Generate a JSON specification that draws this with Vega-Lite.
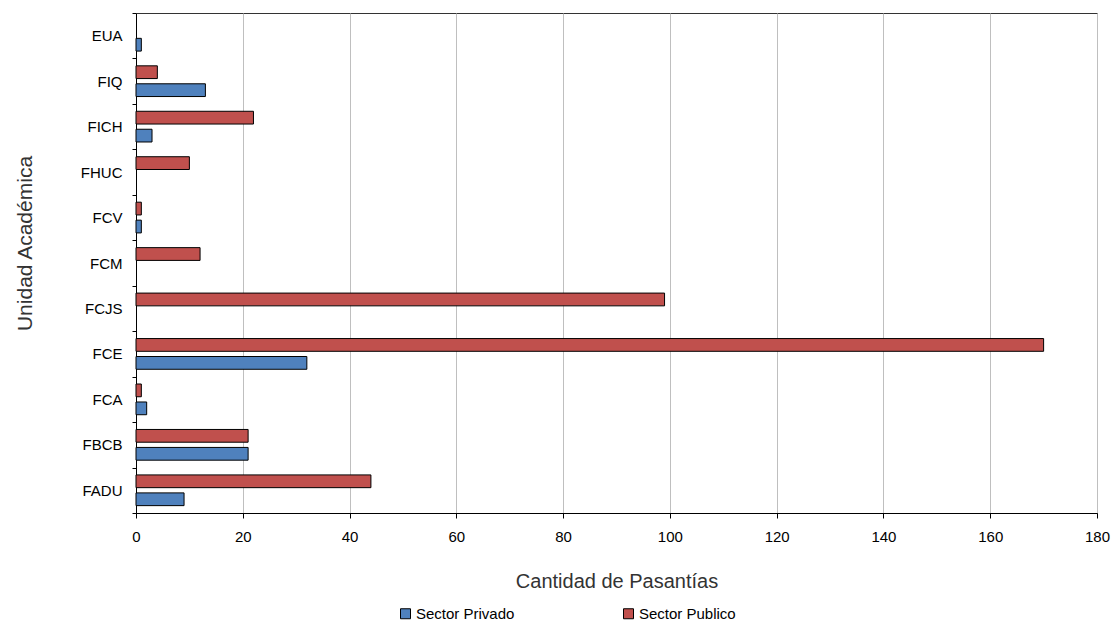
{
  "$schema": "https://vega.github.io/schema/vega-lite/v6.json",
  "width": 961,
  "height": 500,
  "autosize": {"type": "none"},
  "padding": {"left": 136, "top": 13, "right": 14, "bottom": 109},
  "background": "white",
  "config": {
    "font": "Liberation Sans",
    "view": {"stroke": "#333333", "strokeWidth": 1},
    "axis": {"labelFont": "Liberation Sans", "titleFont": "Liberation Sans", "labelColor": "#000", "titleColor": "#333", "domainColor": "#000", "tickColor": "#000", "titleFontWeight": "normal"}
  },
  "data": {
    "values": [
      {"unidad": "EUA", "sector": "Sector Privado", "valor": 1},
      {"unidad": "EUA", "sector": "Sector Publico", "valor": 0},
      {"unidad": "FIQ", "sector": "Sector Privado", "valor": 13},
      {"unidad": "FIQ", "sector": "Sector Publico", "valor": 4},
      {"unidad": "FICH", "sector": "Sector Privado", "valor": 3},
      {"unidad": "FICH", "sector": "Sector Publico", "valor": 22},
      {"unidad": "FHUC", "sector": "Sector Privado", "valor": 0},
      {"unidad": "FHUC", "sector": "Sector Publico", "valor": 10},
      {"unidad": "FCV", "sector": "Sector Privado", "valor": 1},
      {"unidad": "FCV", "sector": "Sector Publico", "valor": 1},
      {"unidad": "FCM", "sector": "Sector Privado", "valor": 0},
      {"unidad": "FCM", "sector": "Sector Publico", "valor": 12},
      {"unidad": "FCJS", "sector": "Sector Privado", "valor": 0},
      {"unidad": "FCJS", "sector": "Sector Publico", "valor": 99},
      {"unidad": "FCE", "sector": "Sector Privado", "valor": 32},
      {"unidad": "FCE", "sector": "Sector Publico", "valor": 170},
      {"unidad": "FCA", "sector": "Sector Privado", "valor": 2},
      {"unidad": "FCA", "sector": "Sector Publico", "valor": 1},
      {"unidad": "FBCB", "sector": "Sector Privado", "valor": 21},
      {"unidad": "FBCB", "sector": "Sector Publico", "valor": 21},
      {"unidad": "FADU", "sector": "Sector Privado", "valor": 9},
      {"unidad": "FADU", "sector": "Sector Publico", "valor": 44}
    ]
  },
  "mark": {"type": "bar", "stroke": "#000", "strokeWidth": 1},
  "encoding": {
    "y": {
      "field": "unidad",
      "type": "nominal",
      "sort": ["EUA", "FIQ", "FICH", "FHUC", "FCV", "FCM", "FCJS", "FCE", "FCA", "FBCB", "FADU"],
      "scale": {"paddingInner": 0, "paddingOuter": 0},
      "axis": {"title": "Unidad Académica", "titleFontSize": 21, "titlePadding": 45, "titleY": 230, "labelFontSize": 15, "labelPadding": 10, "tickSize": 4, "tickBand": "extent", "grid": false}
    },
    "yOffset": {
      "field": "sector",
      "type": "nominal",
      "sort": ["Sector Publico", "Sector Privado"],
      "scale": {"paddingInner": 0.29, "paddingOuter": 0.41}
    },
    "x": {
      "field": "valor",
      "type": "quantitative",
      "scale": {"domain": [0, 180], "nice": false},
      "axis": {"title": "Cantidad de Pasantías", "titleFontSize": 20, "titlePadding": 27, "labelFontSize": 15, "labelPadding": 11, "labelFlush": false, "tickSize": 5, "values": [0, 20, 40, 60, 80, 100, 120, 140, 160, 180], "grid": true, "gridColor": "#BFBFBF", "gridWidth": 1}
    },
    "strokeOpacity": {
      "condition": {"test": "datum.valor == 0", "value": 0},
      "value": 1
    },
    "color": {
      "field": "sector",
      "type": "nominal",
      "scale": {"domain": ["Sector Privado", "Sector Publico"], "range": ["#4F81BD", "#C0504D"]},
      "legend": {
        "title": null,
        "orient": "none",
        "legendX": 262,
        "legendY": 593,
        "direction": "horizontal",
        "symbolType": "square",
        "symbolSize": 100,
        "symbolStrokeColor": "#000",
        "symbolStrokeWidth": 1,
        "symbolOpacity": 1,
        "labelFontSize": 15,
        "labelFont": "Liberation Sans",
        "labelColor": "#000",
        "labelOffset": 3,
        "columnPadding": 106
      }
    }
  }
}
